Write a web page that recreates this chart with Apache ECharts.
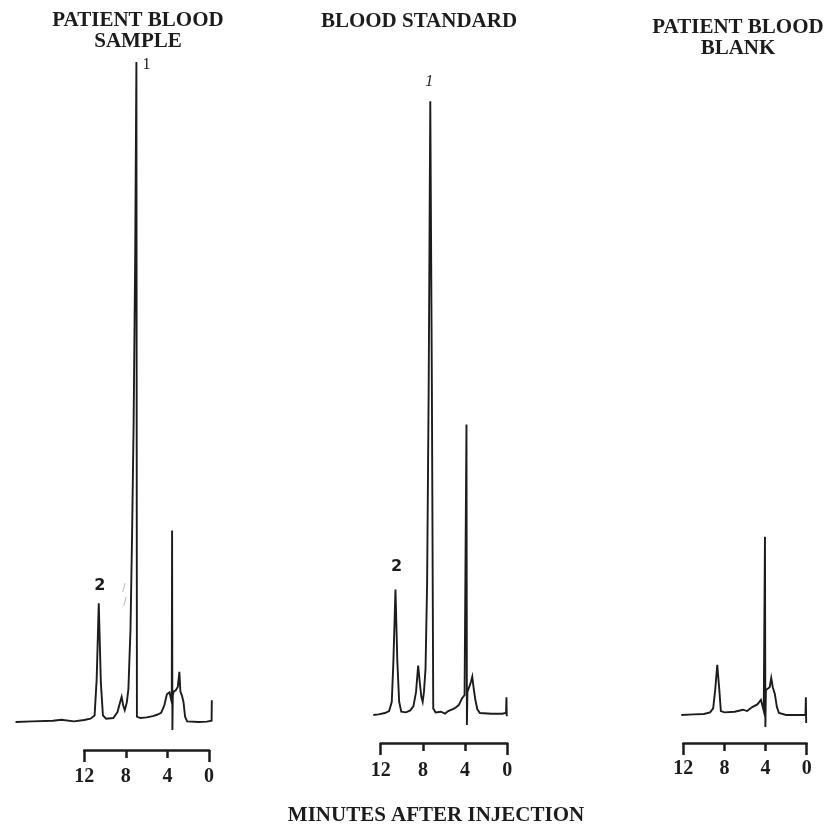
<!DOCTYPE html>
<html>
<head>
<meta charset="utf-8">
<title>Chromatograms</title>
<script src="https://cdn.jsdelivr.net/npm/echarts@6/dist/echarts.min.js"></script>
<style>
  html, body { margin: 0; padding: 0; background: #fff; }
  #chart { width: 826px; height: 829px; }
</style>
</head>
<body>
<div id="chart"></div>
<script>
// Retention time (minutes after injection) and detector response (% of sample peak 1)
const sampleTime = [18.6, 17, 15, 14.2, 13, 12, 11.4, 11.0, 10.8, 10.6, 10.4, 10.2, 9.9, 9.2, 8.8, 8.55, 8.4, 8.25, 8.1, 7.9, 7.75, 7.55, 7.4, 7.25, 7.1, 6.98, 6.93, 6.6, 6.0, 5.4, 5.0, 4.6, 4.3, 4.05, 3.8, 3.62, 3.58, 3.55, 3.52, 3.48, 3.4, 3.2, 3.0, 2.85, 2.75, 2.6, 2.45, 2.3, 2.1, 1.0, 0.2, -0.25, -0.27];
const sampleSignal = [0, 0.1, 0.2, 0.35, 0.1, 0.3, 0.5, 1.0, 6.5, 18, 6, 1.0, 0.5, 0.6, 1.5, 3.0, 3.8, 2.5, 1.8, 3.0, 5.0, 14, 28, 45, 70, 100, 0.8, 0.6, 0.7, 0.9, 1.1, 1.4, 2.5, 4.2, 4.5, 4.8, 3.0, 29, -1.2, 4.0, 4.6, 4.8, 5.3, 7.6, 4.6, 4.0, 3.0, 0.8, 0.1, 0, 0.05, 0.2, 3.3];

const standardTime = [12.7, 12.2, 11.6, 11.2, 10.95, 10.8, 10.6, 10.42, 10.25, 10.05, 9.6, 9.2, 8.9, 8.65, 8.45, 8.3, 8.15, 8.02, 7.9, 7.75, 7.6, 7.45, 7.3, 7.15, 7.07, 7.02, 6.8, 6.3, 5.9, 5.6, 5.0, 4.6, 4.3, 4.05, 3.9, 3.87, 3.83, 3.78, 3.6, 3.45, 3.32, 3.2, 3.05, 2.85, 2.6, 1.5, 0.5, 0.12, 0.08, 0.05];
const standardSignal = [0, 0.1, 0.3, 0.6, 2, 8, 19, 8, 2, 0.5, 0.4, 0.7, 1.3, 3.5, 7.5, 5, 2.8, 2.0, 3.5, 7, 20, 50, 93, 50, 20, 1.0, 0.4, 0.5, 0.2, 0.6, 1.0, 1.5, 2.5, 3.0, 3.2, 44, -1.5, 3.5, 4.3, 5.0, 5.8, 4.2, 2.5, 0.9, 0.3, 0.2, 0.2, 0.3, 2.7, -0.2];

const blankTime = [12.2, 11, 10, 9.4, 9.1, 8.9, 8.7, 8.5, 8.35, 8.0, 7.0, 6.2, 5.8, 5.3, 4.8, 4.45, 4.3, 4.18, 4.1, 4.06, 4.02, 3.97, 3.8, 3.6, 3.45, 3.3, 3.1, 2.9, 2.7, 2.0, 0.12, 0.08, 0.05];
const blankSignal = [0, 0.1, 0.15, 0.4, 1.0, 3.8, 7.6, 3.8, 0.6, 0.4, 0.5, 0.8, 0.6, 1.2, 1.6, 2.3, 2.6, 0.6, 0.8, 27, -1.8, 3.8, 4.0, 4.2, 5.6, 4.2, 3.2, 1.2, 0.3, 0, 0, 2.7, -1.2];

// Peak identifications: [retention time, response, name]
const samplePeaks = [[6.98, 100, '1'], [10.6, 18, '2']];
const standardPeaks = [[7.3, 93, '1'], [10.6, 19, '2']];

const tickLabels = ['12', '8', '4', '0'];
const axisTitle = 'MINUTES AFTER INJECTION';
const panelTitles = [['PATIENT BLOOD', 'SAMPLE'], ['BLOOD STANDARD'], ['PATIENT BLOOD', 'BLANK']];

const ink = '#1c1c1c';
const serif = '"Liberation Serif", "DejaVu Serif", serif';

function pairs(t, v) { return t.map((x, i) => [x, v[i]]); }

// Panel layout: pixel of t = 0, pixels per minute, baseline pixel, axis line pixel, label margin, title centre
const panels = [
  { zero: 209, ppm: 10.4, base: 722, axisY: 750, margin: 17, tx: 138, ty: 21, time: sampleTime, sig: sampleSignal, peaks: samplePeaks, tmax: 19 },
  { zero: 507.3, ppm: 10.55, base: 715, axisY: 743, margin: 18, tx: 419, ty: 22, time: standardTime, sig: standardSignal, peaks: standardPeaks, tmax: 13 },
  { zero: 806.7, ppm: 10.28, base: 715, axisY: 743, margin: 16, tx: 738, ty: 28, time: blankTime, sig: blankSignal, peaks: [], tmax: 12.5 }
];
const tmin = -0.5;
const ymin = -5, ymax = 105, ppu = 6.6;

const grid = [], xAxis = [], yAxis = [], series = [];
const labelOffsets = [[[10, 3], [1, -17]], [[-1, -19], [1, -23]]];

panels.forEach((p, i) => {
  // trace grid
  const gTrace = grid.length;
  grid.push({
    left: p.zero - p.tmax * p.ppm,
    width: (p.tmax - tmin) * p.ppm,
    top: p.base - ymax * ppu,
    height: (ymax - ymin) * ppu
  });
  const xTrace = xAxis.length;
  xAxis.push({ gridIndex: gTrace, type: 'value', inverse: true, min: tmin, max: p.tmax, show: false });
  const yTrace = yAxis.length;
  yAxis.push({ gridIndex: gTrace, type: 'value', min: ymin, max: ymax, show: false });

  // time axis grid (0 to 12 min)
  const gAxis = grid.length;
  grid.push({ left: p.zero - 12 * p.ppm, width: 12 * p.ppm, top: p.axisY - 10, height: 10 });
  xAxis.push({
    gridIndex: gAxis, type: 'value', inverse: true, min: 0, max: 12, interval: 4,
    position: 'bottom',
    axisLine: { show: true, lineStyle: { color: ink, width: 2.5 } },
    axisTick: { show: true, length: 8, lineStyle: { color: ink, width: 2.5 } },
    splitLine: { show: false },
    axisLabel: {
      margin: p.margin,
      color: ink, fontFamily: serif, fontWeight: 'bold', fontSize: 20,
      formatter: v => tickLabels[3 - Math.round(v / 4)]
    }
  });
  xAxis.push({
    gridIndex: gAxis, type: 'value', inverse: true, min: 0, max: 12, interval: 12,
    position: 'bottom', offset: 0,
    axisLine: { show: false },
    axisTick: { show: true, length: 12, lineStyle: { color: ink, width: 2.5 } },
    splitLine: { show: false },
    axisLabel: { show: false }
  });
  yAxis.push({ gridIndex: gAxis, type: 'value', show: false });

  const s = {
    type: 'line',
    xAxisIndex: xTrace,
    yAxisIndex: yTrace,
    data: pairs(p.time, p.sig),
    showSymbol: false,
    silent: true,
    animation: false,
    lineStyle: { color: ink, width: 1.9, join: 'miter' }
  };
  if (p.peaks.length) {
    s.markPoint = {
      symbol: 'circle', symbolSize: 0, silent: true, animation: false,
      data: p.peaks.map((pk, k) => ({
        coord: [pk[0], pk[1]],
        label: {
          show: true, formatter: pk[2], position: 'inside',
          offset: labelOffsets[i][k],
          color: ink, fontSize: 16,
          fontFamily: pk[2] === '1' ? serif : '"DejaVu Sans", sans-serif',
          fontWeight: pk[2] === '1' ? 'normal' : 'bold',
          fontStyle: (pk[2] === '1' && i === 1) ? 'italic' : 'normal'
        }
      }))
    };
  }
  series.push(s);
});

const graphic = [];
panels.forEach((p, i) => {
  panelTitles[i].forEach((line, k) => {
    graphic.push({
      type: 'text', x: p.tx, y: p.ty + k * 21,
      style: { text: line, align: 'center', verticalAlign: 'middle',
               font: 'bold 21px ' + serif, fill: ink }
    });
  });
});
graphic.push({
  type: 'text', x: 436, y: 816,
  style: { text: axisTitle, align: 'center', verticalAlign: 'middle',
           font: 'bold 21px ' + serif, fill: ink }
});
// faint pencil strokes beside the first sample peak
graphic.push({ type: 'text', x: 124, y: 589, style: { text: '/', align: 'center', verticalAlign: 'middle', font: '12px sans-serif', fill: '#bbbbbb' } });
graphic.push({ type: 'text', x: 125, y: 603, style: { text: '/', align: 'center', verticalAlign: 'middle', font: '12px sans-serif', fill: '#bbbbbb' } });

const chart = echarts.init(document.getElementById('chart'), null, { renderer: 'canvas' });
chart.setOption({
  backgroundColor: '#ffffff',
  animation: false,
  grid, xAxis, yAxis, series, graphic
});
</script>
</body>
</html>
